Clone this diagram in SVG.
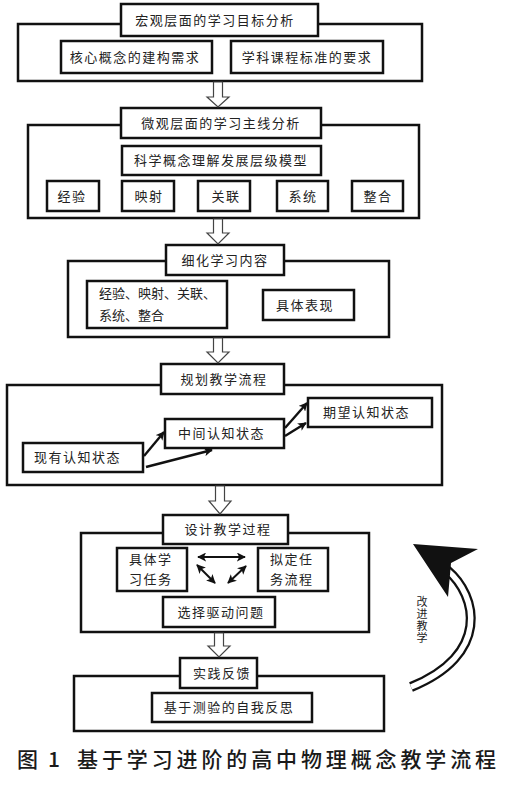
<svg xmlns="http://www.w3.org/2000/svg" width="512" height="800" viewBox="0 0 512 800">
<defs>
<style>
.box{fill:#fff;stroke:#111;stroke-width:2.5}
.t{font-family:"Noto Sans CJK SC","Noto Sans",sans-serif;font-size:13px;fill:#222;letter-spacing:1.5px}
.c{text-anchor:middle}
.v{font-family:"Noto Sans CJK SC","Noto Sans",sans-serif;font-size:11px;fill:#222;letter-spacing:1px;writing-mode:vertical-rl}
.blk{fill:#fff;stroke:#444;stroke-width:1.2}
.ln{stroke:#111;stroke-width:2.4;fill:none}
.cap{font-family:"Noto Sans CJK SC","Noto Sans",sans-serif;font-size:21px;fill:#1a1a1a;font-weight:500}
</style>
<marker id="ah" viewBox="0 0 10 10" refX="9" refY="5" markerWidth="3.6" markerHeight="3.6" orient="auto-start-reverse" markerUnits="strokeWidth">
<path d="M0,0 L10,5 L0,10 L2.5,5 Z" fill="#111"/>
</marker>
<marker id="ah2" viewBox="0 0 10 10" refX="9" refY="5" markerWidth="4.5" markerHeight="4.5" orient="auto-start-reverse" markerUnits="strokeWidth">
<path d="M0,0 L10,5 L0,10 L2.5,5 Z" fill="#111"/>
</marker>
</defs>
<rect width="512" height="800" fill="#fff"/>

<g id="s1">
<rect class="box" x="18" y="24" width="404" height="57"/>
<rect class="box" x="121" y="4" width="197" height="32"/>
<text class="t c" x="215" y="24.5">宏观层面的学习目标分析</text>
<rect class="box" x="61" y="41" width="151" height="32"/>
<text class="t c" x="135" y="61.5">核心概念的建构需求</text>
<rect class="box" x="231" y="41" width="152" height="32"/>
<text class="t c" x="307" y="61.5">学科课程标准的要求</text>
</g>

<g id="s2">
<rect class="box" x="28" y="125" width="391" height="93"/>
<rect class="box" x="121" y="108" width="200" height="30"/>
<text class="t c" x="221" y="127.5">微观层面的学习主线分析</text>
<rect class="box" x="122" y="146" width="199" height="29"/>
<text class="t c" x="221" y="165">科学概念理解发展层级模型</text>
<rect class="box" x="47" y="181" width="52" height="30"/>
<text class="t c" x="72" y="200.5">经验</text>
<rect class="box" x="122" y="181" width="52" height="30"/>
<text class="t c" x="149" y="200.5">映射</text>
<rect class="box" x="198" y="181" width="52" height="30"/>
<text class="t c" x="226" y="200.5">关联</text>
<rect class="box" x="277" y="181" width="51" height="30"/>
<text class="t c" x="303" y="200.5">系统</text>
<rect class="box" x="352" y="181" width="51" height="30"/>
<text class="t c" x="378" y="200.5">整合</text>
</g>

<g id="s3">
<rect class="box" x="68" y="261" width="321" height="76"/>
<rect class="box" x="166" y="245" width="118" height="30"/>
<text class="t c" x="225" y="264.5">细化学习内容</text>
<rect class="box" x="87" y="281" width="140" height="47"/>
<text class="t" x="99" y="297.5" style="letter-spacing:0">经验、映射、关联、</text>
<text class="t" x="99" y="320" style="letter-spacing:0">系统、整合</text>
<rect class="box" x="263" y="290" width="91" height="30"/>
<text class="t c" x="305" y="309.5">具体表现</text>
</g>

<g id="s4">
<rect class="box" x="7" y="385" width="435" height="100"/>
<rect class="box" x="161" y="364" width="123" height="30"/>
<text class="t c" x="224" y="383.5">规划教学流程</text>
<rect class="box" x="23" y="443" width="120" height="29"/>
<text class="t" x="34" y="462">现有认知状态</text>
<rect class="box" x="165" y="419" width="119" height="29"/>
<text class="t" x="178" y="438">中间认知状态</text>
<rect class="box" x="308" y="398" width="124" height="29"/>
<text class="t" x="323" y="417">期望认知状态</text>
</g>

<g id="s5">
<rect class="box" x="81" y="533" width="288" height="99"/>
<rect class="box" x="163" y="515" width="125" height="29"/>
<text class="t c" x="228" y="534">设计教学过程</text>
<rect class="box" x="117" y="548" width="70" height="43"/>
<text class="t" x="129" y="563.5">具体学</text>
<text class="t" x="129" y="583.5">习任务</text>
<rect class="box" x="258" y="548" width="70" height="43"/>
<text class="t" x="270" y="563.5">拟定任</text>
<text class="t" x="270" y="583.5">务流程</text>
<rect class="box" x="163" y="597" width="112" height="30"/>
<text class="t c" x="221" y="616.5">选择驱动问题</text>
</g>

<g id="s6">
<rect class="box" x="74" y="676" width="310" height="55"/>
<rect class="box" x="180" y="658" width="77" height="30"/>
<text class="t c" x="222" y="677.5">实践反馈</text>
<rect class="box" x="152" y="693" width="160" height="29"/>
<text class="t c" x="229" y="712">基于测验的自我反思</text>
</g>

<g id="connectors">
<polygon class="blk" points="213.5,82 222.5,82 222.5,97 229,97 218,107 207,97 213.5,97"/>
<polygon class="blk" points="213.5,219 222.5,219 222.5,233 229,233 218,244 207,233 213.5,233"/>
<polygon class="blk" points="213.5,338 222.5,338 222.5,352 229,352 218,363 207,352 213.5,352"/>
<polygon class="blk" points="215.5,486 224.5,486 224.5,501 231,501 220,514 209,501 215.5,501"/>
<polygon class="blk" points="214.5,633 223.5,633 223.5,646 230,646 219,657 208,646 214.5,646"/>
<line class="ln" x1="144" y1="456" x2="164" y2="432" marker-end="url(#ah)"/>
<line class="ln" x1="146" y1="467" x2="212" y2="450" marker-end="url(#ah)"/>
<line class="ln" x1="285" y1="428" x2="307" y2="403" marker-end="url(#ah)"/>
<line class="ln" x1="285" y1="436" x2="306" y2="423" marker-end="url(#ah)"/>
<line class="ln" x1="198" y1="557" x2="245" y2="557" marker-start="url(#ah2)" marker-end="url(#ah2)" style="stroke-width:2"/>
<line class="ln" x1="197" y1="565" x2="215" y2="583" marker-start="url(#ah2)" marker-end="url(#ah2)" style="stroke-width:2"/>
<line class="ln" x1="228" y1="583" x2="246" y2="566" marker-start="url(#ah2)" marker-end="url(#ah2)" style="stroke-width:2"/>
</g>

<g id="feedback">
<path d="M447,570 C478,596 490,655 411,687" fill="none" stroke="#111" stroke-width="10"/>
<path d="M447,570 C478,596 490,655 411,687" fill="none" stroke="#fff" stroke-width="5.5"/>
<polygon points="413,544 478,549 451,563 448,597" fill="#111"/>
<text class="v" x="422" y="596">改进教学</text>
</g>

<g id="caption">
<text class="cap" x="17" y="767">图</text>
<text class="cap" x="48" y="767">1</text>
<text class="cap" x="77" y="767" textLength="419" lengthAdjust="spacing">基于学习进阶的高中物理概念教学流程</text>
</g>
</svg>
